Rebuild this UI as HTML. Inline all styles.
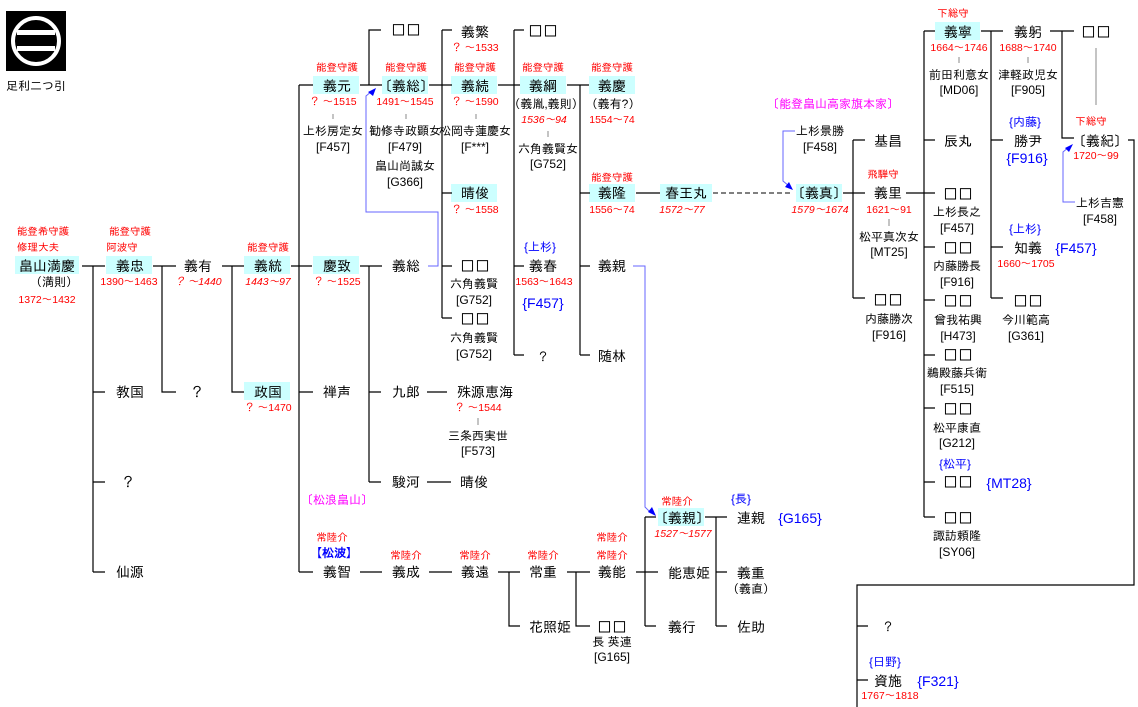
<!DOCTYPE html>
<html><head><meta charset="utf-8">
<style>
body{margin:0;width:1138px;height:707px;background:#fff;position:relative;overflow:hidden;font-family:"Liberation Sans","IPAGothic","Noto Sans CJK JP",sans-serif;}
.n{position:absolute;transform:translate(-50%,-50%);white-space:nowrap;font-size:14px;line-height:1;color:#000;}
.s{font-size:12px;}
.q{font-family:"IPAGothic","Noto Sans CJK JP",sans-serif;font-size:15px;}
.r{position:absolute;transform:translate(-50%,-50%);white-space:nowrap;font-size:10.5px;line-height:1;color:#f00;}
.i{font-style:italic;}
.b{color:#00f;}
.m{color:#f0f;}
.hl{position:absolute;background:#ccffff;}
svg{position:absolute;left:0;top:0;}
</style></head><body>
<div class="hl" style="left:15px;top:256px;width:64px;height:18px"></div>
<div class="hl" style="left:106px;top:256px;width:46px;height:18px"></div>
<div class="hl" style="left:244px;top:256px;width:46px;height:18px"></div>
<div class="hl" style="left:313px;top:256px;width:46px;height:18px"></div>
<div class="hl" style="left:244px;top:382px;width:46px;height:18px"></div>
<div class="hl" style="left:313px;top:76px;width:46px;height:18px"></div>
<div class="hl" style="left:382px;top:76px;width:46px;height:18px"></div>
<div class="hl" style="left:451px;top:76px;width:46px;height:18px"></div>
<div class="hl" style="left:520px;top:76px;width:46px;height:18px"></div>
<div class="hl" style="left:589px;top:76px;width:46px;height:18px"></div>
<div class="hl" style="left:451px;top:184px;width:46px;height:18px"></div>
<div class="hl" style="left:589px;top:184px;width:46px;height:18px"></div>
<div class="hl" style="left:660px;top:184px;width:52px;height:18px"></div>
<div class="hl" style="left:796px;top:184px;width:46px;height:18px"></div>
<div class="hl" style="left:935px;top:22px;width:45px;height:18px"></div>
<div class="hl" style="left:658px;top:508px;width:46px;height:18px"></div>

<svg width="1138" height="707" viewBox="0 0 1138 707">
<rect x="6" y="11" width="60" height="60" fill="#000"/>
<circle cx="36" cy="41" r="23" fill="#000" stroke="#fff" stroke-width="4"/>
<rect x="17" y="30" width="38" height="5" fill="#fff"/>
<rect x="17" y="46" width="38" height="5" fill="#fff"/>
<g stroke="#000" stroke-width="1.2" fill="none">
<path d="M82 266H105M153 266H176M222 266H244M291 266H312M360 266H382M442 266H452M514 266H524M580 266H590"/>
<path d="M93 266V572M93 392H105M93 482H105M93 572H105"/>
<path d="M162 266V392H176M232 266V392H244"/>
<path d="M299 85V572M299 85H313M299 392H313M299 572H313"/>
<path d="M360 85H382M369 85V30H381"/>
<path d="M369 266V482M369 392H381M369 482H381"/>
<path d="M429 85H452M442 30V318M442 30H452M442 193H452M442 318H452"/>
<path d="M498 85H520M514 30V355M514 30H524M514 355H524"/>
<path d="M567 85H589M580 85V355M580 193H590M580 355H590"/>
<path d="M636 193H660"/>
<path d="M843 193H865M853 140V298M853 140H865M853 298H865"/>
<path d="M906 193H935M924 31V517M924 31H935M924 140H935M924 247H935M924 300H935M924 355H935M924 408H935M924 482H935M924 517H935"/>
<path d="M981 31H1003M991 31V298M991 140H1003M991 247H1003M991 298H1003"/>
<path d="M1050 31H1074M1062 31V138H1074"/>
<path d="M1128 140H1134V585H857V707M857 626H868M857 680H868"/>
<path d="M427 392H447M427 482H451"/>
<path d="M360 572H382M429 572H452M498 572H520M509 572V626H520M567 572H590M576 572V626H590M636 572H658M645 517V626M645 517H656M645 626H656M705 517H727M716 517V626M716 572H727M716 626H727"/>
</g>
<path d="M713 193H790" stroke="#000" stroke-width="1" stroke-dasharray="5,3"/>
<g stroke="#888" stroke-width="1">
<path d="M333 114V119M406 114V119M476 114V119M548 131V137M478 418V425M959 57V63M1028 57V63M889 219V226M1096 48V105"/>
</g>
<g stroke="#66f" stroke-width="1" fill="none">
<path d="M428 266H438V212H366V96L372 91"/>
<path d="M633 266H645V507L651 513"/>
<path d="M795 131H783V181L789 186"/>
<path d="M1075 202H1063V152L1069 147"/>
</g>
<g fill="#00f">
<path d="M376 88L368 92L373 96Z"/>
<path d="M656 516L648 512L652 507Z"/>
<path d="M793 190L785 187L789 182Z"/>
<path d="M1073 144L1065 148L1069 152Z"/>
</g>
</svg>

<div class="n s" style="left:36px;top:86px">足利二つ引</div>

<div class="r" style="left:43px;top:232px">能登希守護</div>
<div class="r" style="left:38px;top:248px">修理大夫</div>
<div class="n" style="left:47px;top:266px">畠山満慶</div>
<div class="n s" style="left:54px;top:282px">（満則）</div>
<div class="r" style="left:47px;top:300px">1372～1432</div>
<div class="r" style="left:130px;top:232px">能登守護</div>
<div class="r" style="left:122px;top:248px">阿波守</div>
<div class="n" style="left:130px;top:266px">義忠</div>
<div class="r" style="left:129px;top:282px">1390～1463</div>
<div class="n" style="left:198px;top:266px">義有</div>
<div class="r i" style="left:198px;top:282px">？ ～1440</div>
<div class="r" style="left:268px;top:248px">能登守護</div>
<div class="n" style="left:268px;top:266px">義統</div>
<div class="r i" style="left:268px;top:282px">1443～97</div>
<div class="n" style="left:337px;top:266px">慶致</div>
<div class="r" style="left:337px;top:282px">？ ～1525</div>
<div class="n" style="left:406px;top:266px">義総</div>
<div class="n" style="left:130px;top:392px">教国</div>
<div class="n" style="left:128px;top:482px">？</div>
<div class="n" style="left:130px;top:572px">仙源</div>
<div class="n" style="left:197px;top:392px">？</div>
<div class="n" style="left:268px;top:392px">政国</div>
<div class="r" style="left:268px;top:408px">？ ～1470</div>
<div class="n" style="left:337px;top:392px">禅声</div>
<div class="n s m" style="left:337px;top:500px">〔松浪畠山〕</div>
<div class="r" style="left:332px;top:538px">常陸介</div>
<div class="n s b" style="left:334px;top:553px;font-weight:bold">【松波】</div>
<div class="n" style="left:337px;top:572px">義智</div>
<div class="n" style="left:406px;top:392px">九郎</div>
<div class="n" style="left:406px;top:482px">駿河</div>
<div class="n" style="left:485px;top:392px">殊源恵海</div>
<div class="r" style="left:478px;top:408px">？ ～1544</div>
<div class="n s" style="left:478px;top:436px">三条西実世</div>
<div class="n s" style="left:478px;top:451px">[F573]</div>
<div class="n" style="left:474px;top:482px">晴俊</div>

<div class="r" style="left:337px;top:68px">能登守護</div>
<div class="n" style="left:337px;top:86px">義元</div>
<div class="r" style="left:333px;top:102px">？ ～1515</div>
<div class="n s" style="left:333px;top:131px">上杉房定女</div>
<div class="n s" style="left:333px;top:147px">[F457]</div>
<div class="n q" style="left:406px;top:30px">□□</div>
<div class="r" style="left:406px;top:68px">能登守護</div>
<div class="n" style="left:406px;top:86px">〔義総〕</div>
<div class="r" style="left:405px;top:102px">1491～1545</div>
<div class="n s" style="left:405px;top:131px">勧修寺政顕女</div>
<div class="n s" style="left:405px;top:147px">[F479]</div>
<div class="n s" style="left:405px;top:166px">畠山尚誠女</div>
<div class="n s" style="left:405px;top:182px">[G366]</div>
<div class="n" style="left:475px;top:32px">義繁</div>
<div class="r" style="left:475px;top:48px">？ ～1533</div>
<div class="r" style="left:475px;top:68px">能登守護</div>
<div class="n" style="left:475px;top:86px">義続</div>
<div class="r" style="left:475px;top:102px">？ ～1590</div>
<div class="n s" style="left:475px;top:131px">松岡寺蓮慶女</div>
<div class="n s" style="left:475px;top:147px">[F***]</div>
<div class="n" style="left:475px;top:193px">晴俊</div>
<div class="r" style="left:475px;top:210px">？ ～1558</div>
<div class="n q" style="left:475px;top:266px">□□</div>
<div class="n s" style="left:474px;top:284px">六角義賢</div>
<div class="n s" style="left:474px;top:300px">[G752]</div>
<div class="n q" style="left:475px;top:319px">□□</div>
<div class="n s" style="left:474px;top:338px">六角義賢</div>
<div class="n s" style="left:474px;top:354px">[G752]</div>
<div class="n q" style="left:543px;top:31px">□□</div>
<div class="r" style="left:543px;top:68px">能登守護</div>
<div class="n" style="left:543px;top:86px">義綱</div>
<div class="n s" style="left:546px;top:104px">（義胤,義則）</div>
<div class="r i" style="left:544px;top:120px">1536～94</div>
<div class="n s" style="left:548px;top:149px">六角義賢女</div>
<div class="n s" style="left:548px;top:164px">[G752]</div>
<div class="n s b" style="left:540px;top:247px">{上杉}</div>
<div class="n" style="left:543px;top:266px">義春</div>
<div class="r" style="left:544px;top:282px">1563～1643</div>
<div class="n b" style="left:543px;top:303px">{F457}</div>
<div class="n s" style="left:543px;top:357px">？</div>
<div class="r" style="left:612px;top:68px">能登守護</div>
<div class="n" style="left:612px;top:86px">義慶</div>
<div class="n s" style="left:613px;top:104px">（義有?）</div>
<div class="r" style="left:612px;top:120px">1554～74</div>
<div class="r" style="left:612px;top:178px">能登守護</div>
<div class="n" style="left:612px;top:193px">義隆</div>
<div class="r" style="left:612px;top:210px">1556～74</div>
<div class="n" style="left:612px;top:266px">義親</div>
<div class="n" style="left:612px;top:356px">随林</div>
<div class="n" style="left:686px;top:193px">春王丸</div>
<div class="r i" style="left:682px;top:210px">1572～77</div>

<div class="n s m" style="left:833px;top:104px">〔能登畠山高家旗本家〕</div>
<div class="n s" style="left:820px;top:131px">上杉景勝</div>
<div class="n s" style="left:820px;top:147px">[F458]</div>
<div class="n" style="left:819px;top:193px">〔義真〕</div>
<div class="r i" style="left:820px;top:210px">1579～1674</div>
<div class="n" style="left:888px;top:141px">基昌</div>
<div class="r" style="left:883px;top:175px">飛騨守</div>
<div class="n" style="left:888px;top:193px">義里</div>
<div class="r" style="left:889px;top:210px">1621～91</div>
<div class="n s" style="left:889px;top:237px">松平真次女</div>
<div class="n s" style="left:889px;top:252px">[MT25]</div>
<div class="n q" style="left:888px;top:300px">□□</div>
<div class="n s" style="left:889px;top:319px">内藤勝次</div>
<div class="n s" style="left:889px;top:335px">[F916]</div>
<div class="r" style="left:953px;top:14px">下総守</div>
<div class="n" style="left:958px;top:32px">義寧</div>
<div class="r" style="left:959px;top:48px">1664～1746</div>
<div class="n s" style="left:959px;top:75px">前田利意女</div>
<div class="n s" style="left:959px;top:90px">[MD06]</div>
<div class="n" style="left:958px;top:141px">辰丸</div>
<div class="n q" style="left:958px;top:194px">□□</div>
<div class="n s" style="left:957px;top:212px">上杉長之</div>
<div class="n s" style="left:957px;top:228px">[F457]</div>
<div class="n q" style="left:958px;top:248px">□□</div>
<div class="n s" style="left:957px;top:266px">内藤勝長</div>
<div class="n s" style="left:957px;top:282px">[F916]</div>
<div class="n q" style="left:958px;top:301px">□□</div>
<div class="n s" style="left:958px;top:320px">曾我祐興</div>
<div class="n s" style="left:958px;top:336px">[H473]</div>
<div class="n q" style="left:958px;top:355px">□□</div>
<div class="n s" style="left:957px;top:373px">鵜殿藤兵衛</div>
<div class="n s" style="left:957px;top:389px">[F515]</div>
<div class="n q" style="left:958px;top:409px">□□</div>
<div class="n s" style="left:957px;top:428px">松平康直</div>
<div class="n s" style="left:957px;top:443px">[G212]</div>
<div class="n s b" style="left:955px;top:464px">{松平}</div>
<div class="n q" style="left:958px;top:482px">□□</div>
<div class="n b" style="left:1009px;top:483px">{MT28}</div>
<div class="n q" style="left:958px;top:518px">□□</div>
<div class="n s" style="left:957px;top:536px">諏訪頼隆</div>
<div class="n s" style="left:957px;top:552px">[SY06]</div>
<div class="n" style="left:1028px;top:32px">義躬</div>
<div class="r" style="left:1028px;top:48px">1688～1740</div>
<div class="n s" style="left:1028px;top:75px">津軽政児女</div>
<div class="n s" style="left:1028px;top:90px">[F905]</div>
<div class="n s b" style="left:1025px;top:122px">{内藤}</div>
<div class="n" style="left:1028px;top:141px">勝尹</div>
<div class="n b" style="left:1027px;top:158px">{F916}</div>
<div class="n s b" style="left:1025px;top:229px">{上杉}</div>
<div class="n" style="left:1028px;top:248px">知義</div>
<div class="n b" style="left:1076px;top:248px">{F457}</div>
<div class="r" style="left:1026px;top:264px">1660～1705</div>
<div class="n q" style="left:1028px;top:301px">□□</div>
<div class="n s" style="left:1026px;top:320px">今川範高</div>
<div class="n s" style="left:1026px;top:336px">[G361]</div>
<div class="n q" style="left:1096px;top:32px">□□</div>
<div class="r" style="left:1091px;top:122px">下総守</div>
<div class="n" style="left:1100px;top:141px">〔義紀〕</div>
<div class="r" style="left:1096px;top:156px">1720～99</div>
<div class="n s" style="left:1100px;top:203px">上杉吉憲</div>
<div class="n s" style="left:1100px;top:219px">[F458]</div>
<div class="n s" style="left:888px;top:627px">？</div>
<div class="n s b" style="left:885px;top:662px">{日野}</div>
<div class="n" style="left:888px;top:681px">資施</div>
<div class="n b" style="left:938px;top:681px">{F321}</div>
<div class="r" style="left:890px;top:696px">1767～1818</div>

<div class="r" style="left:406px;top:556px">常陸介</div>
<div class="n" style="left:406px;top:572px">義成</div>
<div class="r" style="left:475px;top:556px">常陸介</div>
<div class="n" style="left:475px;top:572px">義遠</div>
<div class="r" style="left:543px;top:556px">常陸介</div>
<div class="n" style="left:543px;top:572px">常重</div>
<div class="r" style="left:612px;top:538px">常陸介</div>
<div class="r" style="left:612px;top:556px">常陸介</div>
<div class="n" style="left:612px;top:572px">義能</div>
<div class="n" style="left:550px;top:627px">花照姫</div>
<div class="n q" style="left:612px;top:627px">□□</div>
<div class="n s" style="left:612px;top:642px">長 英連</div>
<div class="n s" style="left:612px;top:657px">[G165]</div>
<div class="r" style="left:677px;top:502px">常陸介</div>
<div class="n" style="left:682px;top:518px">〔義親〕</div>
<div class="r i" style="left:683px;top:534px">1527～1577</div>
<div class="n" style="left:689px;top:573px">能恵姫</div>
<div class="n" style="left:682px;top:627px">義行</div>
<div class="n s b" style="left:741px;top:499px">{長}</div>
<div class="n" style="left:751px;top:518px">連親</div>
<div class="n b" style="left:800px;top:518px">{G165}</div>
<div class="n" style="left:751px;top:573px">義重</div>
<div class="n s" style="left:751px;top:589px">（義直）</div>
<div class="n" style="left:751px;top:627px">佐助</div>
</body></html>
